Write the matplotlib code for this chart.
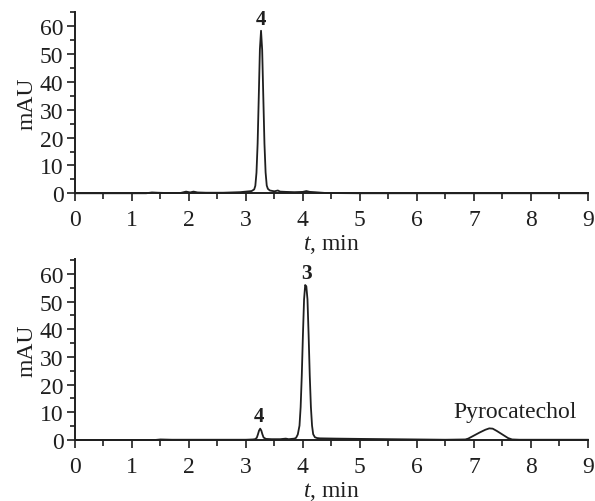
import matplotlib
matplotlib.use("Agg")
import matplotlib.pyplot as plt
from matplotlib.ticker import MultipleLocator

plt.rcParams['font.family'] = ['Liberation Serif', 'DejaVu Serif']
plt.rcParams['mathtext.fontset'] = 'custom'
plt.rcParams['mathtext.it'] = 'Liberation Serif:italic'
plt.rcParams['mathtext.rm'] = 'Liberation Serif'

# ---- data ----
t_top = [0.0, 0.5, 1.0, 1.25, 1.35, 1.45, 1.6, 1.85, 1.95, 2.02, 2.08, 2.15, 2.3, 2.6,
         2.9, 3.0, 3.1, 3.145, 3.165, 3.185, 3.205, 3.225, 3.245, 3.265, 3.285, 3.305,
         3.325, 3.345, 3.365, 3.385, 3.42, 3.5, 3.56, 3.6, 3.7, 3.85, 4.0, 4.06, 4.12,
         4.2, 4.4, 5.0, 6.0, 7.0, 8.0, 9.0]
y_top = [0.0, 0.0, 0.0, 0.0, 0.3, 0.2, 0.1, 0.1, 0.6, 0.3, 0.6, 0.3, 0.2, 0.2,
         0.4, 0.6, 0.8, 1.4, 2.7, 7.4, 17.8, 34.5, 51.8, 58.4, 51.5, 34.5,
         17.8, 7.5, 2.8, 1.6, 1.0, 0.7, 1.0, 0.6, 0.5, 0.4, 0.5, 0.8, 0.5,
         0.4, 0.1, 0.0, 0.0, 0.0, 0.0, 0.0]

t_bot = [0.0, 0.5, 1.0, 1.4, 1.5, 1.7, 2.0, 2.5, 3.0, 3.12, 3.16, 3.19, 3.21, 3.23,
         3.25, 3.27, 3.29, 3.31, 3.35, 3.45, 3.6, 3.7, 3.75, 3.85, 3.88, 3.91, 3.94,
         3.96, 3.98, 4.00, 4.02, 4.04, 4.06, 4.08, 4.10, 4.12, 4.14, 4.16, 4.18, 4.21,
         4.25, 4.3, 4.6, 5.0, 5.5, 6.0, 6.5, 6.85, 6.9, 7.0, 7.1, 7.2, 7.27, 7.33, 7.4,
         7.5, 7.6, 7.67, 7.8, 8.0, 9.0]
y_bot = [0.0, 0.0, 0.0, 0.0, 0.2, 0.1, 0.1, 0.1, 0.1, 0.2, 0.3, 0.8, 2.0, 3.4,
         4.1, 3.4, 2.0, 0.9, 0.4, 0.3, 0.3, 0.5, 0.3, 0.5, 0.8, 2.0, 5.2,
         11.9, 23.3, 37.9, 50.8, 56.0, 55.5, 50.8, 37.9, 23.3, 11.9, 5.2, 2.1, 1.0,
         0.7, 0.6, 0.5, 0.4, 0.3, 0.2, 0.1, 0.2, 0.5, 1.6, 2.7, 3.7, 4.2, 4.1, 3.3,
         2.0, 0.7, 0.2, 0.1, 0.1, 0.1]

x_ticks = [0, 1, 2, 3, 4, 5, 6, 7, 8, 9]
y_ticks = [0, 10, 20, 30, 40, 50, 60]

labels_top = [("4", 3.265, 62.6, "bold", 15)]
labels_bot = [("4", 3.235, 8.8, "bold", 15), ("3", 4.06, 60.2, "bold", 15.5),
              ("Pyrocatechol", 7.72, 10.3, "normal", 17)]

# ---- figure ----
fig = plt.figure(figsize=(5.95, 5.02), dpi=100)
ax1 = fig.add_axes([0.126, 0.613, 0.862, 0.362])
ax2 = fig.add_axes([0.126, 0.1215, 0.862, 0.36])

ink = '#1f1f1f'
fs = 17
for ax, t, y, labs in [(ax1, t_top, y_top, labels_top), (ax2, t_bot, y_bot, labels_bot)]:
    ax.plot(t, y, color=ink, lw=1.3, clip_on=False, solid_joinstyle='round')
    ax.set_xlim(0, 9)
    ax.set_ylim(0, 65.3)
    for s in ['top', 'right']:
        ax.spines[s].set_visible(False)
    for s in ['left', 'bottom']:
        ax.spines[s].set_linewidth(1.4)
        ax.spines[s].set_color(ink)
    ax.set_xticks(x_ticks)
    ax.set_yticks(y_ticks)
    ax.xaxis.set_minor_locator(MultipleLocator(0.5))
    ax.yaxis.set_minor_locator(MultipleLocator(5))
    ax.tick_params(axis='x', which='major', direction='out', length=5.5, width=1.2,
                   labelsize=fs, pad=6, colors=ink)
    ax.tick_params(axis='x', which='minor', direction='out', length=4.5, width=1.2, colors=ink)
    ax.tick_params(axis='y', which='major', direction='out', length=5.8, width=1.2,
                   labelsize=fs, pad=2.5, colors=ink)
    ax.tick_params(axis='y', which='minor', direction='out', length=3.4, width=1.2, colors=ink)
    ax.set_xlabel(r'$\it{t}$, min', fontsize=fs, labelpad=1.5, color=ink)
    ax.set_ylabel('mAU', fontsize=fs, labelpad=2, color=ink)
    for txt, x, yv, w, f in labs:
        ax.text(x, yv, txt, ha='center', va='center', fontsize=f, fontweight=w, color=ink)

fig.savefig('out.png', dpi=100)
